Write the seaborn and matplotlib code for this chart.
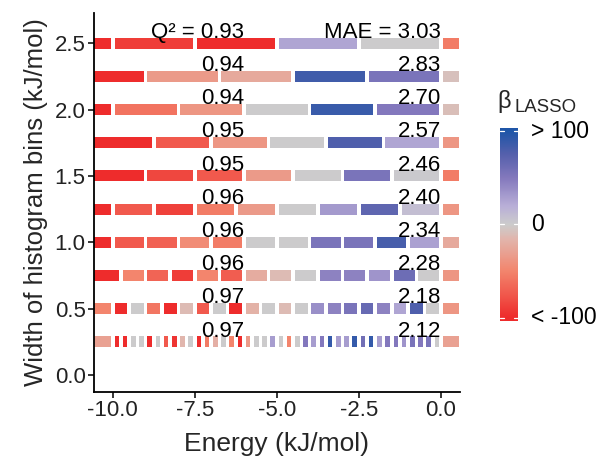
import numpy as np
import pandas as pd
import matplotlib
matplotlib.use("Agg")
import matplotlib.pyplot as plt
from matplotlib.colors import LinearSegmentedColormap, Normalize
import seaborn as sns

# bin widths (kJ/mol), one strip per width
widths = [2.5, 2.25, 2.0, 1.75, 1.5, 1.25, 1.0, 0.75, 0.5, 0.25]

# LASSO coefficients per bin, left (underflow) -> right (overflow, E > 0)
beta_250 = [-100, -90, -100, 25, 0, -55]
beta_225 = [-100, -35, -25, 85, 55, -8]
beta_200 = [-100, -60, -38, 0, 88, 50, -10]
beta_175 = [-100, -75, -38, 0, 78, 25, -38]
beta_150 = [-100, -85, -75, -35, 0, 55, 2, -55]
beta_125 = [-100, -75, -88, -55, -35, 0, 32, 70, 10, -38]
beta_100 = [-100, -75, -70, -45, -55, 0, 0, 55, 55, 82, 28, -25]
beta_075 = [-100, -50, -68, -90, -50, -72, -22, -12, 0, 45, 45, 35, 62, 0, -38]
beta_050 = [-50, -100, 0, -58, -100, -12, -75, 0, -100, -18, 0,
            -12, 0, 38, 45, 55, 65, 45, 25, 78, 0, -38]
beta_025 = [-30,
            -100, -100, 0, 0, -100, 0, -75, -95, -15, 0,
            -100, -55, -20, 0, -50, -100, -35, 0, 0, 30,
            0, -50, 0, 50, 30, 50, 90, 30, 30, 90,
            60, 90, 30, 50, 50, 35, 55, 50, 55, 0,
            -30]
betas = [beta_250, beta_225, beta_200, beta_175, beta_150,
         beta_125, beta_100, beta_075, beta_050, beta_025]

q2 = [0.93, 0.94, 0.94, 0.95, 0.95, 0.96, 0.96, 0.96, 0.97, 0.97]
mae = [3.03, 2.83, 2.70, 2.57, 2.46, 2.40, 2.34, 2.28, 2.18, 2.12]

#%%
# build tiles table: regular bins end at 0, one open bin each side
rows = []
for w, vals in zip(widths, betas):
    n = len(vals) - 2
    edges = -w * np.arange(n, -1, -1)
    lefts = np.concatenate([[-11.0], edges[:-1], [0.0]])
    rights = np.concatenate([[edges[0]], edges[1:], [0.6]])
    for l, r, v in zip(lefts, rights, vals):
        rows.append({"width": w, "left": l, "right": r, "beta": v})
tiles = pd.DataFrame(rows)

cmap = LinearSegmentedColormap.from_list(
    "beta",
    [(0.0, "#EE2C2C"), (0.25, "#F3856D"), (0.42, "#E2B5AC"), (0.5, "#CCCCCC"),
     (0.6, "#B9AFD8"), (0.75, "#8479BD"), (0.88, "#5460AC"), (1.0, "#1F56A8")])
norm = Normalize(-100, 100)

#%%
sns.set_theme(style="ticks")
plt.rcParams["font.family"] = ["Liberation Sans", "DejaVu Sans"]

fig = plt.figure(figsize=(5.96, 4.66), dpi=100)
ax = fig.add_axes([0.1577, 0.1594, 0.6141, 0.8133])

gap = 0.11
ax.barh(tiles["width"], tiles["right"] - tiles["left"] - gap,
        left=tiles["left"] + gap / 2, height=0.083,
        color=cmap(norm(tiles["beta"].values)), linewidth=0)

for i, (w, q, m) in enumerate(zip(widths, q2, mae)):
    qtxt = "Q² = {:.2f}".format(q) if i == 0 else "{:.2f}".format(q)
    mtxt = "MAE = {:.2f}".format(m) if i == 0 else "{:.2f}".format(m)
    ax.text(-6.0, w + 0.04, qtxt, ha="right", va="baseline", fontsize=16, color="black")
    ax.text(0.0, w + 0.04, mtxt, ha="right", va="baseline", fontsize=16, color="black")

ax.set_xlim(-10.57, 0.58)
ax.set_ylim(-0.126, 2.73)
ax.set_xticks([-10, -7.5, -5, -2.5, 0])
ax.set_xticklabels(["-10.0", "-7.5", "-5.0", "-2.5", "0.0"])
ax.set_yticks([0, 0.5, 1.0, 1.5, 2.0, 2.5])
ax.set_yticklabels(["0.0", "0.5", "1.0", "1.5", "2.0", "2.5"])
ax.tick_params(labelsize=16, length=4, width=1.1, color="black", labelcolor="#222222", pad=2)
ax.set_xlabel("Energy (kJ/mol)", fontsize=19, labelpad=8)
ax.set_ylabel("Width of histogram bins (kJ/mol)", fontsize=18.5, labelpad=5)
sns.despine(ax=ax)
for s in ["left", "bottom"]:
    ax.spines[s].set_linewidth(1.3)
    ax.spines[s].set_color("black")

# legend colour bar
cax = fig.add_axes([0.839, 0.3118, 0.030, 0.4129])
grad = np.linspace(-103, 103, 256).reshape(-1, 1)
cax.imshow(grad, aspect="auto", cmap=cmap, norm=norm, origin="lower",
           extent=(0, 1, -103, 103))
cax.set_xlim(0, 1)
cax.set_ylim(-103, 103)
cax.set_xticks([])
cax.set_yticks([])
for s in cax.spines.values():
    s.set_visible(False)
for t, lab in zip([100, 0, -100], ["> 100", "0", "< -100"]):
    cax.plot([0, 0.2], [t, t], color="white", lw=0.9)
    cax.plot([0.8, 1], [t, t], color="white", lw=0.9)
    cax.text(1.75, t, lab, ha="left", va="center", fontsize=16.5, color="black",
             transform=cax.transData, clip_on=False)
fig.text(0.835, 0.768, "β", fontsize=17, ha="left", va="baseline")
fig.text(0.863, 0.760, "LASSO", fontsize=13.4, ha="left", va="baseline")

fig.savefig("out.png", dpi=100)
